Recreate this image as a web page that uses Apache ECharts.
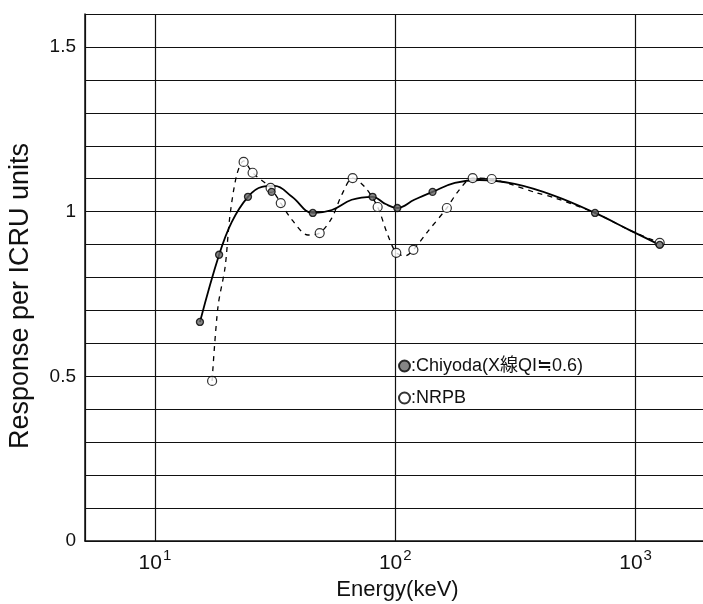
<!DOCTYPE html>
<html>
<head>
<meta charset="utf-8">
<script src="https://cdn.jsdelivr.net/npm/echarts@6/dist/echarts.min.js"></script>
<style>html,body{margin:0;padding:0;background:#fff}#c{width:703px;height:604px}</style>
</head>
<body>
<div id="c"></div>
<script>
// Measured points (markers)
var chiyodaE = [15.4, 18.5, 24.4, 30.6, 45.4, 80.5, 102, 143, 678, 1260];
var chiyodaR = [0.665, 0.869, 1.045, 1.06, 0.996, 1.045, 1.011, 1.060, 0.996, 0.899];
var nrpbE = [17.3, 23.4, 25.5, 30.3, 33.4, 48.5, 66.5, 84.5, 101, 119, 164, 210, 252, 1260];
var nrpbR = [0.486, 1.151, 1.118, 1.072, 1.026, 0.935, 1.102, 1.014, 0.875, 0.884, 1.011, 1.102, 1.099, 0.905];
// Curves
var chiyodaCurveE = [15.4, 18.5, 20.9, 24.4, 27.9, 31.5, 37.2, 45.4, 54.5, 65.9, 80.5, 91.2, 102, 120, 143, 177, 224, 314, 460, 678, 944, 1260];
var chiyodaCurveR = [0.665, 0.869, 0.969, 1.045, 1.075, 1.078, 1.045, 0.996, 1.005, 1.036, 1.045, 1.023, 1.011, 1.036, 1.060, 1.087, 1.096, 1.084, 1.048, 0.996, 0.944, 0.899];
var nrpbCurveE = [17.3, 18.3, 19.6, 20.5, 21.9, 23.4, 25.5, 30.3, 33.4, 37.2, 43.3, 48.5, 54.5, 59.9, 66.5, 75.3, 84.5, 93.1, 101, 110, 119, 136, 164, 182, 210, 252, 299, 387, 460, 678, 944, 1260];
var nrpbCurveR = [0.486, 0.711, 0.832, 0.984, 1.111, 1.154, 1.118, 1.072, 1.026, 0.975, 0.929, 0.935, 0.981, 1.051, 1.102, 1.072, 1.014, 0.929, 0.875, 0.866, 0.884, 0.938, 1.011, 1.060, 1.102, 1.099, 1.084, 1.057, 1.042, 0.996, 0.944, 0.905];
var yLabels = {'0': '0', '0.5': '0.5', '1': '1', '1.5': '1.5'};
var xTickPowers = [1, 2, 3];
var yTitle = 'Response per ICRU units';
var xTitle = 'Energy(keV)';

function pairs(a, b) { return a.map(function (v, i) { return [v, b[i]]; }); }
var FONT = "'Liberation Sans', 'Noto Sans CJK JP', sans-serif";

var chart = echarts.init(document.getElementById('c'));
chart.setOption({
  animation: false,
  backgroundColor: '#fff',
  textStyle: { fontFamily: FONT },
  grid: { left: 85, top: 14, width: 625, height: 527, containLabel: false, outerBoundsMode: 'none' },
  graphic: [{
    type: 'text',
    x: 21,
    y: 296,
    rotation: Math.PI / 2,
    style: {
      text: yTitle,
      fontSize: 27,
      fontFamily: FONT,
      fill: '#111',
      textAlign: 'center',
      textVerticalAlign: 'middle'
    }
  }],
  legend: {
    orient: 'vertical',
    left: 393,
    top: 352,
    itemGap: 14,
    itemWidth: 11,
    itemHeight: 11,
    data: ['Chiyoda(X線QI≒0.6)', 'NRPB'],
    formatter: function (n) { return ':' + n; },
    textStyle: { fontSize: 18, color: '#111', fontFamily: FONT, padding: [0, 0, 0, -4] }
  },
  xAxis: {
    type: 'log',
    logBase: 10,
    min: 5.12,
    max: 2040,
    name: xTitle,
    nameLocation: 'middle',
    nameGap: 31,
    nameTextStyle: { fontSize: 22, color: '#111', fontFamily: FONT },
    axisLine: { show: true, lineStyle: { color: '#111', width: 1.5 } },
    axisTick: { show: false },
    splitLine: { show: true, lineStyle: { color: '#111', width: 1.2 } },
    axisLabel: {
      margin: 4,
      showMinLabel: true,
      showMaxLabel: true,
      formatter: function (v) {
        var p = Math.round(Math.log10(v));
        if (Math.abs(Math.log10(v) - p) < 1e-6 && xTickPowers.indexOf(p) >= 0) {
          return '{b|10}{s|' + p + '}';
        }
        return '';
      },
      rich: {
        b: { fontSize: 21, color: '#111', fontFamily: FONT, padding: [8, 0, 0, 0] },
        s: { fontSize: 15, color: '#111', fontFamily: FONT, padding: [0, 0, 8, 1] }
      }
    }
  },
  yAxis: {
    type: 'value',
    min: 0,
    max: 1.6,
    interval: 0.1,
    axisLine: { show: true, lineStyle: { color: '#111', width: 1.5 } },
    axisTick: { show: false },
    splitLine: { show: true, lineStyle: { color: '#111', width: 1.2 } },
    axisLabel: {
      fontSize: 19,
      color: '#111',
      margin: 9,
      formatter: function (v) {
        var k = String(Math.round(v * 10) / 10);
        return yLabels[k] !== undefined ? yLabels[k] : '';
      }
    }
  },
  series: [
    {
      name: 'chiyodaCurve',
      type: 'line',
      data: pairs(chiyodaCurveE, chiyodaCurveR),
      smooth: 0.4,
      showSymbol: false,
      symbol: 'none',
      lineStyle: { color: '#000', width: 1.8 },
      z: 3
    },
    {
      name: 'nrpbCurve',
      type: 'line',
      data: pairs(nrpbCurveE, nrpbCurveR),
      smooth: 0.3,
      showSymbol: false,
      symbol: 'none',
      lineStyle: { color: '#000', width: 1.3, type: [5, 5] },
      z: 3
    },
    {
      name: 'NRPB',
      type: 'scatter',
      data: pairs(nrpbE, nrpbR),
      symbol: 'circle',
      symbolSize: 9,
      itemStyle: { color: '#fff', borderColor: '#000', borderWidth: 1.2 },
      z: 4
    },
    {
      name: 'Chiyoda(X線QI≒0.6)',
      type: 'scatter',
      data: pairs(chiyodaE, chiyodaR),
      symbol: 'circle',
      symbolSize: 7,
      itemStyle: { color: '#666', borderColor: '#000', borderWidth: 1.3 },
      z: 5
    }
  ]
});
</script>
</body>
</html>
